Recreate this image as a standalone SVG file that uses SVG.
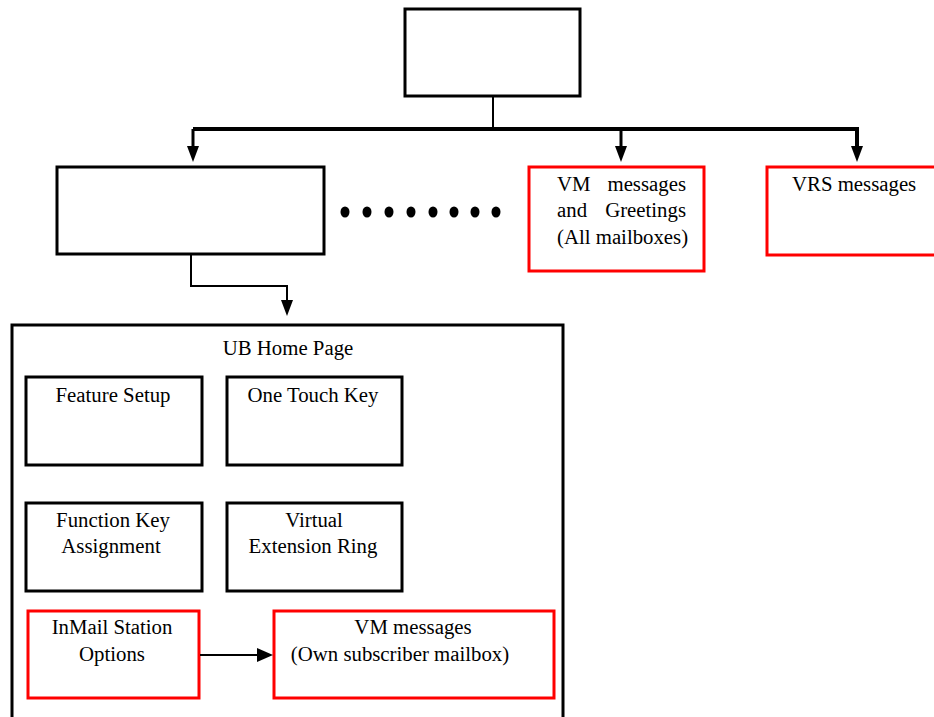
<svg xmlns="http://www.w3.org/2000/svg" width="934" height="717" viewBox="0 0 934 717">
<defs>
<style>
.b{fill:#fff;stroke:#000;stroke-width:3}
.r{fill:#fff;stroke:#f00;stroke-width:3}
.t{font-family:"Liberation Serif","Times New Roman",serif;font-size:20.8px;fill:#000}
.c{stroke:#000;fill:none}
</style>
</defs>
<rect width="934" height="717" fill="#fff"/>
<g id="top"><rect class="b" x="405" y="9" width="175" height="87"/></g>
<g id="left"><rect class="b" x="57" y="167" width="267" height="87"/></g>
<g id="vm-all"><rect class="r" x="529" y="167" width="175" height="104"/>
<text class="t" x="557" y="191">VM</text><text class="t" x="686" y="191" text-anchor="end">messages</text>
<text class="t" x="557" y="217">and</text><text class="t" x="686" y="217" text-anchor="end">Greetings</text>
<text class="t" x="557" y="244">(All mailboxes)</text></g>
<g id="vrs"><rect class="r" x="767" y="167" width="170" height="88"/>
<text class="t" x="792" y="191">VRS messages</text></g>
<g id="ub"><rect class="b" x="12" y="325" width="551" height="400"/>
<text class="t" x="288" y="355" text-anchor="middle">UB Home Page</text></g>
<g id="feature"><rect class="b" x="26" y="377" width="176" height="88"/>
<text class="t" x="113" y="402" text-anchor="middle">Feature Setup</text></g>
<g id="onetouch"><rect class="b" x="227" y="377" width="175" height="88"/>
<text class="t" x="313" y="402" text-anchor="middle">One Touch Key</text></g>
<g id="function"><rect class="b" x="26" y="503" width="176" height="88"/>
<text class="t" x="113" y="527" text-anchor="middle">Function Key</text>
<text class="t" x="111" y="553" text-anchor="middle">Assignment</text></g>
<g id="virtual"><rect class="b" x="227" y="503" width="175" height="88"/>
<text class="t" x="314" y="527" text-anchor="middle">Virtual</text>
<text class="t" x="313" y="553" text-anchor="middle">Extension Ring</text></g>
<g id="inmail"><rect class="r" x="28" y="611" width="171" height="87"/>
<text class="t" x="112" y="634" text-anchor="middle">InMail Station</text>
<text class="t" x="112" y="661" text-anchor="middle">Options</text></g>
<g id="vm-own"><rect class="r" x="274" y="611" width="280" height="87"/>
<text class="t" x="413" y="634" text-anchor="middle">VM messages</text>
<text class="t" x="400" y="661" text-anchor="middle">(Own subscriber mailbox)</text></g>
<g id="connectors">
<line class="c" x1="493" y1="97" x2="493" y2="129" stroke-width="2"/>
<line class="c" x1="193" y1="129" x2="859" y2="129" stroke-width="4"/>
<path class="c" d="M193,129 V146" stroke-width="3"/>
<path d="M187,146 L199,146 L193,162 Z"/>
<path class="c" d="M621,129 V146" stroke-width="3"/>
<path d="M615,146 L627,146 L621,162 Z"/>
<path class="c" d="M857,129 V146" stroke-width="4"/>
<path d="M851,146 L863,146 L857,162 Z"/>
<path class="c" d="M191,255 V286 H287 V300" stroke-width="2"/>
<path d="M281,300 L293,300 L287,316 Z"/>
<path class="c" d="M200,655 H258" stroke-width="2"/>
<path d="M257,648 L273,655 L257,662 Z"/>
<g fill="#000">
<ellipse cx="345" cy="212" rx="4.5" ry="5.5"/>
<ellipse cx="367" cy="212" rx="4.5" ry="5.5"/>
<ellipse cx="389" cy="212" rx="4.5" ry="5.5"/>
<ellipse cx="411" cy="212" rx="4.5" ry="5.5"/>
<ellipse cx="433" cy="212" rx="4.5" ry="5.5"/>
<ellipse cx="454" cy="212" rx="4.5" ry="5.5"/>
<ellipse cx="475" cy="212" rx="4.5" ry="5.5"/>
<ellipse cx="496" cy="212" rx="4.5" ry="5.5"/>
</g>
</g>
</svg>
